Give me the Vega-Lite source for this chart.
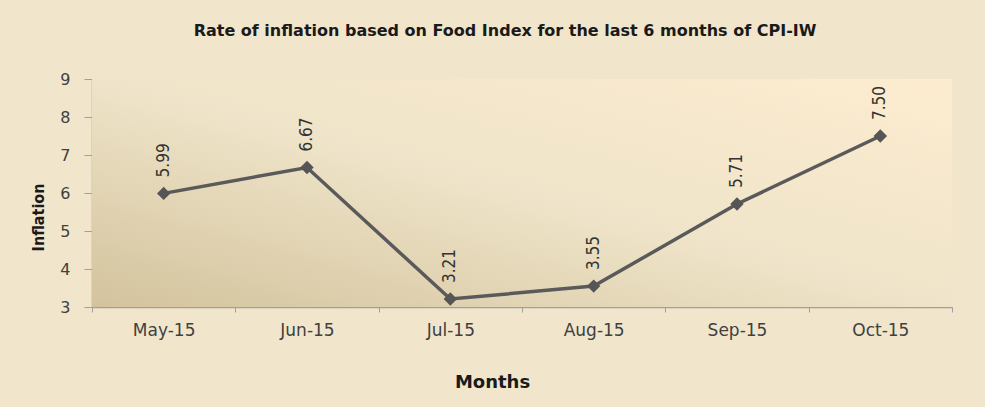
{
  "$schema": "https://vega.github.io/schema/vega-lite/v6.json",
  "width": 860,
  "height": 228,
  "autosize": {"type": "none"},
  "padding": {"left": 92, "top": 79, "right": 33, "bottom": 100},
  "background": "#f1e6cc",
  "config": {"view": {"stroke": null}},
  "title": {
    "text": "Rate of  inflation based on Food Index for the last 6 months of CPI-IW",
    "font": "DejaVu Sans",
    "fontSize": 16,
    "fontWeight": "bold",
    "color": "#1a1a1a",
    "anchor": "middle",
    "offset": 32,
    "dx": -17
  },
  "datasets": {
    "rates": [
      {"month": "May-15", "inflation": 5.99},
      {"month": "Jun-15", "inflation": 6.67},
      {"month": "Jul-15", "inflation": 3.21},
      {"month": "Aug-15", "inflation": 3.55},
      {"month": "Sep-15", "inflation": 5.71},
      {"month": "Oct-15", "inflation": 7.5}
    ],
    "panel": [{"name": "plot"}]
  },
  "layer": [
    {
      "data": {"name": "panel"},
      "mark": {
        "type": "rect",
        "fill": {
          "gradient": "linear",
          "x1": 0, "y1": 1, "x2": 1, "y2": 0,
          "stops": [
            {"offset": 0, "color": "#d3c39d"},
            {"offset": 0.5, "color": "#efe4c9"},
            {"offset": 1, "color": "#fdecd0"}
          ]
        }
      },
      "encoding": {}
    },
    {
      "data": {"name": "rates"},
      "encoding": {
        "x": {
          "field": "month",
          "type": "nominal",
          "sort": null,
          "bandPosition": 0.5,
          "scale": {"type": "band", "paddingInner": 0, "paddingOuter": 0},
          "title": "Months",
          "axis": {
            "labelAngle": 0,
            "labelFont": "DejaVu Sans",
            "labelFontSize": 17,
            "labelColor": "#404040",
            "labelPadding": 10,
            "tickBand": "extent",
            "tickSize": 5,
            "tickColor": "#a0a0a0",
            "domainColor": "#a0a0a0",
            "domainWidth": 1.5,
            "titleFont": "DejaVu Sans",
            "titleFontSize": 18,
            "titleFontWeight": "bold",
            "titleColor": "#1a1a1a",
            "titleX": 400,
            "titleY": 80,
            "titleBaseline": "alphabetic"
          }
        },
        "y": {
          "field": "inflation",
          "type": "quantitative",
          "scale": {"domain": [3, 9], "nice": false, "zero": false},
          "title": "Inflation",
          "axis": {
            "values": [3, 4, 5, 6, 7, 8, 9],
            "grid": false,
            "labelFont": "DejaVu Sans",
            "labelFontSize": 16,
            "labelColor": "#404040",
            "labelPadding": 14,
            "tickSize": 8,
            "tickColor": "#a0a0a0",
            "domainColor": "#a0a0a0",
            "domainWidth": 1.5,
            "titleFont": "DejaVu Sans Condensed, sans-serif",
            "titleFontSize": 16,
            "titleFontWeight": "bold",
            "titleColor": "#1a1a1a",
            "titleX": -46,
            "titleY": 138,
            "titleBaseline": "bottom"
          }
        }
      },
      "layer": [
        {
          "mark": {"type": "line", "color": "#5a5a5a", "strokeWidth": 3.5}
        },
        {
          "mark": {"type": "point", "shape": "diamond", "filled": true, "size": 180, "color": "#555555", "opacity": 1}
        },
        {
          "mark": {
            "type": "text",
            "angle": 270,
            "align": "left",
            "baseline": "middle",
            "dx": 16,
            "font": "DejaVu Sans Condensed, sans-serif",
            "fontSize": 17,
            "color": "#333333"
          },
          "encoding": {
            "text": {"field": "inflation", "type": "quantitative", "format": ".2f"}
          }
        }
      ]
    }
  ]
}
